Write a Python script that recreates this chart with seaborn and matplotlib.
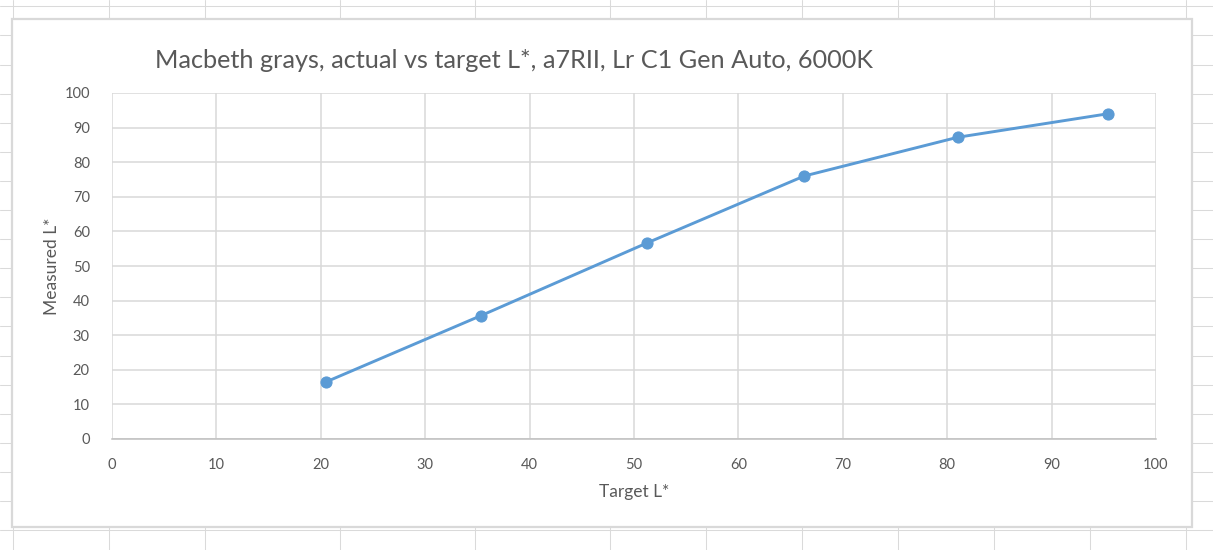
import numpy as np
import pandas as pd
import matplotlib
matplotlib.use("Agg")
import matplotlib.pyplot as plt
from matplotlib.patches import Rectangle
import seaborn as sns

# Values
target_l = [20.5, 35.3, 51.2, 66.3, 81.0, 95.4]
measured_l = [16.5, 35.6, 56.6, 76.0, 87.2, 94.0]
ticks = [0, 10, 20, 30, 40, 50, 60, 70, 80, 90, 100]

title = "Macbeth grays, actual vs target L*, a7RII, Lr C1 Gen Auto, 6000K"

sns.set_style("white")
plt.rcParams["font.family"] = ["Lato", "DejaVu Sans"]

W, H = 1213, 550
text_color = "#595959"
grid_color = "#d9d9d9"
blue = "#5b9bd5"

df = pd.DataFrame({"target": target_l, "measured": measured_l})

fig = plt.figure(figsize=(W / 100, H / 100), dpi=100)
fig.patch.set_facecolor("white")

# spreadsheet cells behind the chart
bg = fig.add_axes([0, 0, 1, 1])
bg.set_xlim(0, W)
bg.set_ylim(H, 0)
bg.axis("off")
for x in [13, 109, 205, 340, 475, 610, 706, 802, 898, 994, 1090, 1186]:
    bg.axvline(x, color="#dadada", lw=0.75)
for y in np.arange(6.3, H, 29.1):
    bg.axhline(y, color="#dadada", lw=0.75)

# chart area
bg.add_patch(Rectangle((12, 19), 1180, 508, facecolor="white",
                       edgecolor=grid_color, lw=1.6, zorder=3))

left, right, top, bottom = 112, 1156, 93, 439
ax = fig.add_axes([left / W, (H - bottom) / H, (right - left) / W, (bottom - top) / H])
ax.set_facecolor("white")

sns.lineplot(data=df, x="target", y="measured", ax=ax, color=blue, lw=2.1,
             marker="o", markersize=8, markeredgecolor=blue, zorder=3)

ax.set_xlim(0, 100)
ax.set_ylim(0, 100)
ax.set_xticks(ticks)
ax.set_yticks(ticks)
ax.grid(True, color=grid_color, lw=1.1)
ax.set_axisbelow(True)
for side in ["top", "right", "left"]:
    ax.spines[side].set_visible(False)
ax.spines["bottom"].set_color("#bfbfbf")
ax.spines["bottom"].set_linewidth(1.1)
ax.tick_params(axis="both", length=0, labelsize=10.5, labelcolor=text_color)
ax.tick_params(axis="x", pad=14)
ax.tick_params(axis="y", pad=16)

ax.set_xlabel("Target L*", fontsize=12.5, color=text_color, labelpad=8)
ax.set_ylabel("Measured L*", fontsize=12.5, color=text_color, labelpad=3)

fig.text(514 / W, 1 - 61 / H, title, ha="center", va="center",
         fontsize=18.2, color=text_color)

fig.savefig("out.png", dpi=100, facecolor="white")
